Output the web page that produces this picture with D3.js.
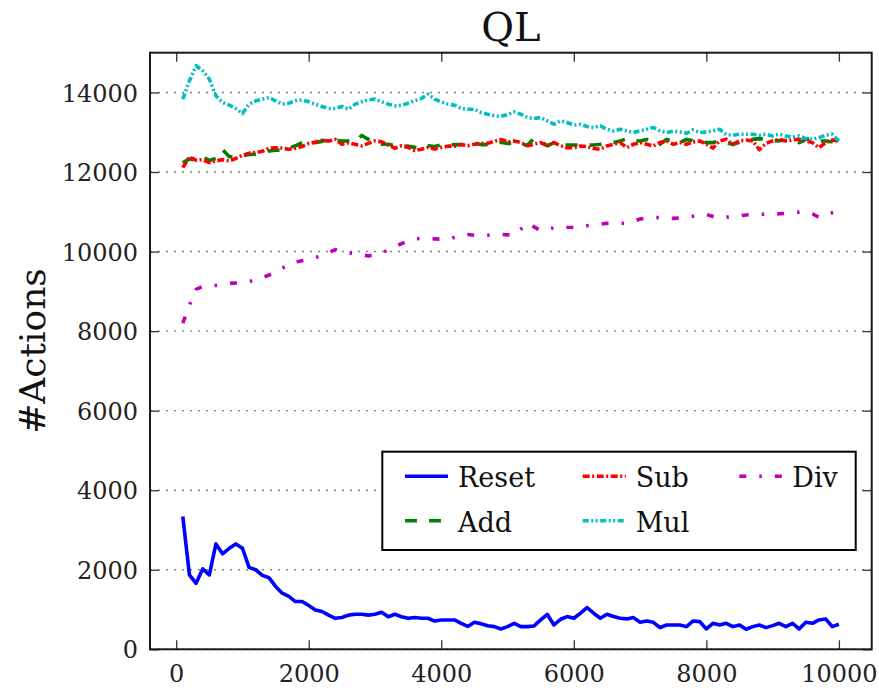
<!DOCTYPE html>
<html>
<head>
<meta charset="utf-8">
<script src="https://cdn.jsdelivr.net/npm/d3@7"></script>
<style>
  body { margin: 0; background: #fff; }
  svg { display: block; }
</style>
</head>
<body>
<div id="chart"></div>
<script>
// episodes (x values)
const steps = [100, 200, 300, 400, 500, 600, 700, 800, 900, 1000,
    1100, 1200, 1300, 1400, 1500, 1600, 1700, 1800, 1900, 2000,
    2100, 2200, 2300, 2400, 2500, 2600, 2700, 2800, 2900, 3000,
    3100, 3200, 3300, 3400, 3500, 3600, 3700, 3800, 3900, 4000,
    4100, 4200, 4300, 4400, 4500, 4600, 4700, 4800, 4900, 5000,
    5100, 5200, 5300, 5400, 5500, 5600, 5700, 5800, 5900, 6000,
    6100, 6200, 6300, 6400, 6500, 6600, 6700, 6800, 6900, 7000,
    7100, 7200, 7300, 7400, 7500, 7600, 7700, 7800, 7900, 8000,
    8100, 8200, 8300, 8400, 8500, 8600, 8700, 8800, 8900, 9000,
    9100, 9200, 9300, 9400, 9500, 9600, 9700, 9800, 9900, 10000];

const reset = [3340, 1870, 1660, 2020, 1870, 2650, 2400, 2540, 2650, 2540,
    2060, 2000, 1860, 1800, 1580, 1410, 1330, 1200, 1200, 1100,
    990, 950, 860, 780, 800, 860, 880, 880, 860, 880,
    930, 820, 880, 820, 780, 800, 780, 780, 710, 738,
    738, 738, 654, 575, 679, 640, 590, 570, 512, 570,
    654, 570, 570, 587, 738, 880, 612, 755, 823, 781,
    907, 1050, 907, 781, 880, 823, 781, 764, 797, 679,
    713, 679, 545, 612, 612, 612, 570, 713, 696, 512,
    654, 612, 654, 570, 612, 503, 570, 612, 545, 595,
    654, 570, 654, 512, 679, 654, 738, 764, 570, 629];

const add = [12230, 12330, 12300, 12380, 12290, 12340, 12560, 12390, 12360, 12410,
    12440, 12450, 12480, 12530, 12550, 12550, 12600, 12660, 12740, 12730,
    12740, 12770, 12830, 12800, 12780, 12780, 12760, 12920, 12820, 12740,
    12700, 12700, 12660, 12640, 12650, 12620, 12600, 12660, 12640, 12680,
    12680, 12690, 12690, 12700, 12720, 12690, 12690, 12720, 12750, 12720,
    12720, 12690, 12680, 12840, 12760, 12660, 12740, 12680, 12680, 12680,
    12680, 12680, 12680, 12700, 12740, 12740, 12780, 12840, 12790, 12780,
    12820, 12740, 12700, 12820, 12780, 12740, 12820, 12790, 12780, 12740,
    12740, 12780, 12740, 12690, 12750, 12790, 12820, 12840, 12820, 12780,
    12790, 12800, 12820, 12740, 12820, 12840, 12780, 12780, 12760, 12760];

const sub = [12110, 12380, 12300, 12310, 12240, 12280, 12310, 12280, 12340, 12420,
    12470, 12490, 12520, 12600, 12610, 12600, 12570, 12600, 12640, 12720,
    12750, 12800, 12780, 12820, 12700, 12730, 12700, 12660, 12720, 12780,
    12760, 12680, 12600, 12660, 12620, 12540, 12570, 12620, 12580, 12620,
    12650, 12650, 12690, 12660, 12700, 12720, 12720, 12770, 12820, 12760,
    12780, 12740, 12660, 12700, 12740, 12660, 12740, 12660, 12610, 12610,
    12656, 12640, 12590, 12572, 12656, 12698, 12740, 12614, 12698, 12740,
    12698, 12656, 12740, 12782, 12698, 12740, 12698, 12757, 12782, 12698,
    12600, 12782, 12824, 12698, 12782, 12807, 12782, 12560, 12720, 12782,
    12824, 12782, 12807, 12824, 12782, 12740, 12610, 12740, 12807, 12780];

const mul = [13832, 14294, 14672, 14546, 14336, 13916, 13748, 13680, 13597, 13471,
    13706, 13790, 13832, 13874, 13790, 13706, 13731, 13790, 13815, 13765,
    13706, 13647, 13597, 13597, 13647, 13580, 13706, 13765, 13815, 13832,
    13765, 13706, 13664, 13680, 13731, 13790, 13849, 13958, 13832, 13765,
    13706, 13680, 13597, 13580, 13580, 13496, 13454, 13412, 13400, 13440,
    13513, 13454, 13370, 13345, 13370, 13286, 13202, 13286, 13244, 13177,
    13202, 13143, 13118, 13160, 13076, 13034, 13076, 13034, 12992, 13034,
    13076, 13118, 13034, 12992, 13026, 13009, 12975, 13059, 12992, 13009,
    13034, 13076, 12942, 12925, 12950, 12950, 12950, 12925, 12950, 12908,
    12950, 12908, 12874, 12908, 12841, 12824, 12866, 12925, 12950, 12782];

const div = [8200, 8650, 9050, 9120, 9140, 9150, 9170, 9200, 9210, 9215,
    9240, 9300, 9340, 9410, 9490, 9580, 9680, 9740, 9770, 9800,
    9850, 9890, 9970, 10050, 10010, 9970, 9950, 9920, 9890, 9920,
    9980, 10030, 10120, 10200, 10260, 10320, 10330, 10330, 10320, 10310,
    10310, 10360, 10420, 10430, 10410, 10400, 10410, 10430, 10430, 10420,
    10410, 10560, 10720, 10620, 10530, 10550, 10600, 10620, 10610, 10605,
    10620, 10650, 10665, 10690, 10710, 10713, 10713, 10713, 10760, 10820,
    10835, 10850, 10857, 10845, 10835, 10845, 10870, 10890, 10920, 10935,
    10880, 10835, 10860, 10890, 10900, 10920, 10938, 10940, 10940, 10940,
    10950, 10962, 10975, 10990, 10995, 10950, 10860, 10920, 10975, 10985];

const seriesNames = ["Reset", "Add", "Sub", "Mul", "Div"];
const seriesValues = [reset, add, sub, mul, div];
const xTicks = [0, 2000, 4000, 6000, 8000, 10000];
const yTicks = [0, 2000, 4000, 6000, 8000, 10000, 12000, 14000];

// matplotlib classic colours + line styles
const styles = {
    "Reset": {color: "#0000ff", dash: null},
    "Add":   {color: "#008000", dash: "12,12"},
    "Sub":   {color: "#ff0000", dash: "7,2.5,2,2.5"},
    "Mul":   {color: "#00bfbf", dash: "6,2.5,2,2.5,2,2.5"},
    "Div":   {color: "#bf00bf", dash: "7,13,2.5,13"},
};

const FONT = "DejaVu Serif";

function main() {
    let w = 879, h = 690;
    let m = {top: 52.7, right: 7.3, bottom: 40.7, left: 150};
    let pw = w - m.left - m.right, ph = h - m.top - m.bottom;

    let svg = d3.select("#chart").append("svg")
        .attr("width", w)
        .attr("height", h)
        .attr("font-family", FONT);

    let x = d3.scaleLinear().domain([-395, 10495]).range([0, pw]);
    let y = d3.scaleLinear().domain([0, 15000]).range([ph, 0]);

    let g = svg.append("g").attr("transform", `translate(${m.left},${m.top})`);

    // dotted horizontal grid
    g.append("g").selectAll("line")
        .data(yTicks)
        .enter().append("line")
        .attr("x1", 0).attr("x2", pw)
        .attr("y1", d => y(d)).attr("y2", d => y(d))
        .attr("stroke", "#808080")
        .attr("stroke-width", 1.4)
        .attr("stroke-dasharray", "2,6");

    // series
    let data = seriesNames.map((name, i) => ({
        name: name,
        values: steps.map((s, j) => ({x: s, y: seriesValues[i][j]}))
    }));
    let line = d3.line().x(d => x(d.x)).y(d => y(d.y));

    svg.append("clipPath").attr("id", "clip")
        .append("rect").attr("width", pw).attr("height", ph);

    g.append("g").attr("clip-path", "url(#clip)")
        .selectAll("path.series")
        .data(data)
        .enter().append("path")
        .attr("class", "series")
        .attr("d", d => line(d.values))
        .attr("fill", "none")
        .attr("stroke", d => styles[d.name].color)
        .attr("stroke-width", 3.6)
        .attr("stroke-linejoin", "round")
        .attr("stroke-dasharray", d => styles[d.name].dash);

    // axes, ticks pointing inward on all four sides
    let styleAxis = function(sel) {
        sel.attr("font-family", FONT);
        sel.select(".domain").remove();
        sel.selectAll(".tick line").attr("stroke", "#333").attr("stroke-width", 1.3);
        sel.selectAll(".tick text")
            .attr("fill", "#222")
            .attr("font-size", 24);
    };

    g.append("g")
        .attr("transform", `translate(0,${ph})`)
        .call(d3.axisBottom(x).tickValues(xTicks).tickSize(-9).tickFormat(d3.format("d")))
        .call(styleAxis)
        .call(a => a.selectAll(".tick text").attr("dy", null).attr("y", 33));

    g.append("g")
        .call(d3.axisTop(x).tickValues(xTicks).tickSize(-9).tickFormat(""))
        .call(styleAxis);

    g.append("g")
        .call(d3.axisLeft(y).tickValues(yTicks).tickSize(-9).tickFormat(d3.format("d")))
        .call(styleAxis)
        .call(a => a.selectAll(".tick text").attr("x", -12).attr("dy", "0.36em"));

    g.append("g")
        .attr("transform", `translate(${pw},0)`)
        .call(d3.axisRight(y).tickValues(yTicks).tickSize(-9).tickFormat(""))
        .call(styleAxis);

    // frame
    g.append("rect")
        .attr("width", pw).attr("height", ph)
        .attr("fill", "none")
        .attr("stroke", "#1a1a1a")
        .attr("stroke-width", 2);

    // title + y label
    svg.append("text")
        .attr("x", m.left + pw / 2)
        .attr("y", 41)
        .attr("text-anchor", "middle")
        .attr("font-size", 40)
        .attr("fill", "#111")
        .text("QL");

    svg.append("text")
        .attr("transform", `translate(45,${m.top + ph / 2}) rotate(-90)`)
        .attr("text-anchor", "middle")
        .attr("font-size", 36)
        .attr("fill", "#111")
        .text("#Actions");

    // legend: 3 columns, 2 rows, filled column-first
    let legend = svg.append("g");
    legend.append("rect")
        .attr("x", 382.3).attr("y", 451.7)
        .attr("width", 473.4).attr("height", 98.3)
        .attr("fill", "white")
        .attr("stroke", "black")
        .attr("stroke-width", 2);

    let colX = [405, 582.7, 739.3];
    let rowY = [476.3, 520.7];
    let items = legend.selectAll("g.item")
        .data(data)
        .enter().append("g")
        .attr("class", "item")
        .attr("transform", (d, i) => `translate(${colX[Math.floor(i / 2)]},${rowY[i % 2]})`);

    items.append("line")
        .attr("x1", 0).attr("x2", 43)
        .attr("y1", 0).attr("y2", 0)
        .attr("stroke", d => styles[d.name].color)
        .attr("stroke-width", 3.6)
        .attr("stroke-dasharray", d => styles[d.name].dash);

    items.append("text")
        .attr("x", 53)
        .attr("y", 11)
        .attr("font-size", 27)
        .attr("fill", "#111")
        .text(d => d.name);
}

main();
</script>
</body>
</html>
